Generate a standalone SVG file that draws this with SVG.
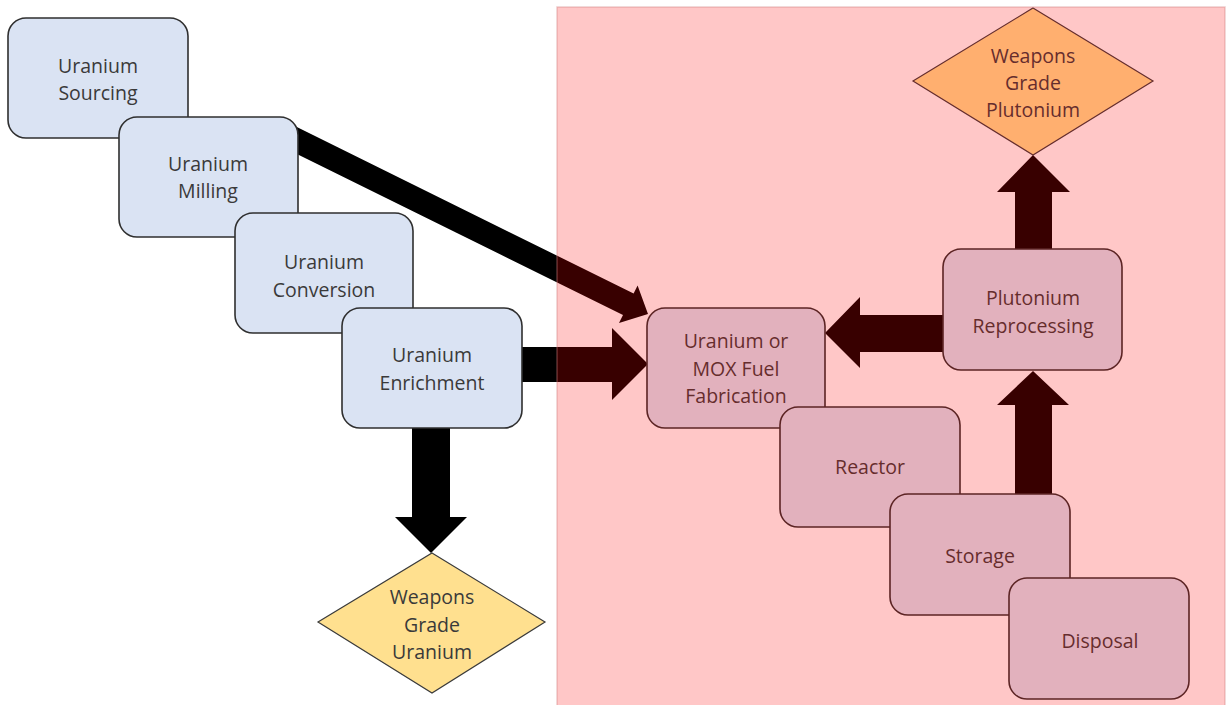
<svg xmlns="http://www.w3.org/2000/svg" width="1227" height="705" viewBox="0 0 1227 705">
<style>
.node rect{fill:#DAE3F3;stroke:#2f2f2f;stroke-width:1.6}
.dia polygon{fill:#FFE08F;stroke:#3a3a3a;stroke-width:1.2}
text{font-family:"Open Sans","Liberation Sans",sans-serif;font-size:19.5px;fill:#3a3a3a;text-anchor:middle}
.arrow{fill:#000}
</style>
<rect width="1227" height="705" fill="#fff"/>
<g id="connectors">
<polygon class="arrow" points="294.3,125.8 633.6,293.5 637.6,285.4 648,314 619,323.1 623,315 283.7,147.4"/>
<polygon class="arrow" points="515,347 612,347 612,328 648,364 612,400 612,382 515,382"/>
<polygon class="arrow" points="412,420 450,420 450,517 467,517 431,553 395,517 412,517"/>
<polygon class="arrow" points="950,315 860,315 860,297 825,333 860,368 860,352 950,352"/>
<polygon class="arrow" points="1015,256 1015,192 997,192 1033,155 1070,192 1052,192 1052,256"/>
<polygon class="arrow" points="1015,500 1015,405 997,405 1033,371 1069,405 1052,405 1052,500"/>
</g>
<g id="n-sourcing" class="node"><rect x="8" y="18" width="180" height="120" rx="18"/><text x="98" y="73">Uranium</text><text x="98" y="100">Sourcing</text></g>
<g id="n-milling" class="node"><rect x="119" y="117" width="179" height="120" rx="18"/><text x="208" y="171">Uranium</text><text x="208" y="198">Milling</text></g>
<g id="n-conversion" class="node"><rect x="235" y="213" width="178" height="120" rx="18"/><text x="324" y="269">Uranium</text><text x="324" y="297">Conversion</text></g>
<g id="n-enrichment" class="node"><rect x="342" y="308" width="180" height="120" rx="18"/><text x="432" y="362">Uranium</text><text x="432" y="390">Enrichment</text></g>
<g id="n-wgu" class="dia"><polygon points="432,553 545,622 432,693 318,622"/><text x="432" y="604">Weapons</text><text x="432" y="632">Grade</text><text x="432" y="659">Uranium</text></g>
<g id="n-fabrication" class="node"><rect x="647" y="308" width="178" height="120" rx="18"/><text x="736" y="348">Uranium or</text><text x="736" y="376">MOX Fuel</text><text x="736" y="403">Fabrication</text></g>
<g id="n-reactor" class="node"><rect x="780" y="407" width="180" height="120" rx="18"/><text x="870" y="474">Reactor</text></g>
<g id="n-storage" class="node"><rect x="890" y="494" width="180" height="121" rx="18"/><text x="980" y="563">Storage</text></g>
<g id="n-disposal" class="node"><rect x="1009" y="578" width="180" height="121" rx="18"/><text x="1100" y="648">Disposal</text></g>
<g id="n-reprocessing" class="node"><rect x="943" y="249" width="179" height="121" rx="18"/><text x="1033" y="305">Plutonium</text><text x="1033" y="333">Reprocessing</text></g>
<g id="n-wgp" class="dia"><polygon points="1033,8 1153,81 1033,155 913,81"/><text x="1033" y="63">Weapons</text><text x="1033" y="90">Grade</text><text x="1033" y="117">Plutonium</text></g>
<rect id="zone" x="557" y="7" width="668" height="700" fill="#ff0000" fill-opacity="0.22" stroke="#d08080" stroke-opacity="0.4" stroke-width="1.5"/>
</svg>
